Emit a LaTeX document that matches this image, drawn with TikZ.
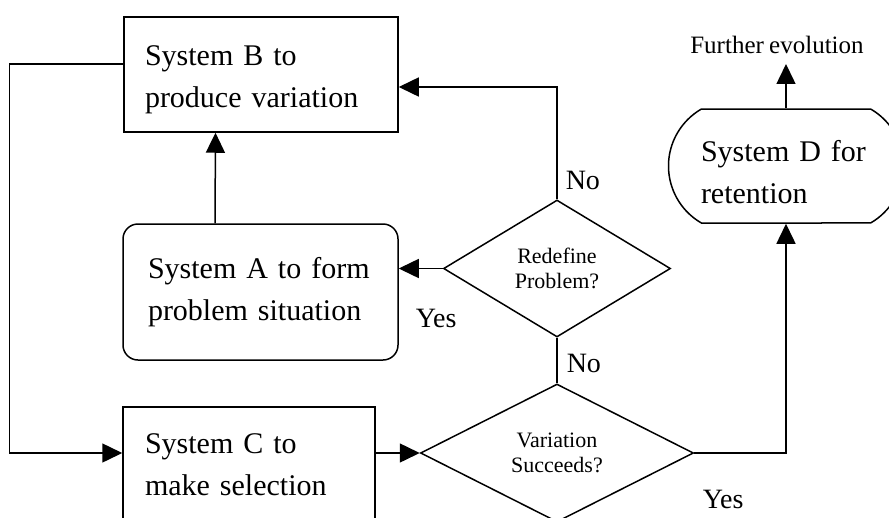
\documentclass[tikz,border=0pt]{standalone}
\usepackage{fontspec}
\setmainfont[WordSpace=0.85]{Liberation Serif}
\usetikzlibrary{arrows.meta,shapes.geometric,shapes.misc}

\begin{document}
\begin{tikzpicture}[x=1pt,y=-1pt,
  line width=1.5pt,
  bigtext/.style={font=\fontsize{30}{42}\selectfont},
  box/.style={draw, bigtext, align=left, inner ysep=0pt},
  decision/.style={draw, diamond, inner sep=0pt, align=center,
    font=\fontsize{22}{25}\selectfont},
  answer/.style={anchor=west, inner sep=0pt, font=\fontsize{28}{30}\selectfont},
  arr/.style={-{Triangle[length=20pt,width=19pt]}},
]
\fill[white] (0,0) rectangle (889,517);
\useasboundingbox (0,0) rectangle (889,517);
\clip (0,0) rectangle (889,517);

% process boxes
\node[box, minimum width=274pt, minimum height=115pt, inner xsep=21pt,
      text width=232pt] (B) at (261,74.5)
      {\rule{0pt}{30pt}System B to\\produce variation};
\node[box, rounded corners=15pt, minimum width=275pt, minimum height=136pt,
      inner xsep=25pt, text width=225pt] (A) at (260.5,292)
      {System A to form\\problem situation};
\node[box, minimum width=252pt, minimum height=116pt, inner xsep=22pt,
      text width=208pt] (C) at (249,465) {System C to\\make selection};
\node[box, rounded rectangle, rounded rectangle arc length=120,
      minimum width=235pt, minimum height=114pt, inner xsep=0pt,
      text width=170pt] (D) at (786,166)
      {\rule{0pt}{34pt}System D for\\retention};

% decisions
\node[decision, minimum width=227pt, minimum height=137pt] (R) at (557,268.5)
      {Redefine\\Problem?};
\node[decision, minimum width=273pt, minimum height=138pt] (V) at (557,453)
      {Variation\\Succeeds?};

% output label
\node[anchor=base, inner xsep=0pt, inner ysep=10pt,
      font=\fontsize{25}{27}\selectfont] (F) at (777,53) {Further evolution};

% connectors
\draw[arr] ([xshift=-45.5pt]A.north) -- ([xshift=-45.5pt]B.south);
\draw[arr] ([yshift=10.5pt]B.west) -- ++(-114,0) |- ([yshift=12pt]C.west);
\draw[arr] ([yshift=12pt]C.east) -- (V.west);
\draw[arr] (R.west) -- (R.west -| A.east);
\draw[arr] (R.north) |- ([yshift=-12.5pt]B.east);
\draw (R.south) -- (V.north);
\draw[arr] (V.east) -| (D.south);
\draw[arr] (D.north) -- (D.north |- F.south);

% branch labels
\node[answer] (no1) at (565,180) {No};
\node[answer] (yes1) at (415,318) {Yes};
\node[answer] (no2) at (566,363) {No};
\node[answer] (yes2) at (702,499) {Yes};
\end{tikzpicture}
\end{document}
